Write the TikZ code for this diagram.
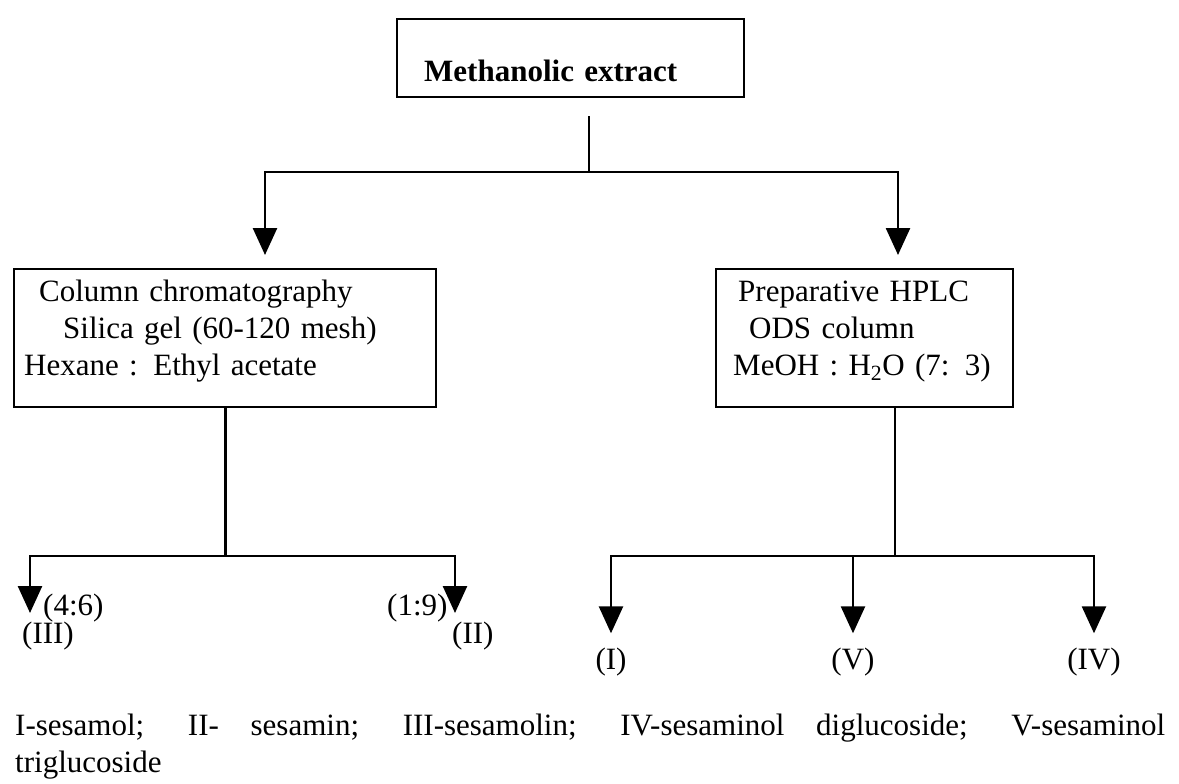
\documentclass[tikz,border=0pt]{standalone}
\usepackage{fontspec}
\setmainfont{Liberation Serif}
\usetikzlibrary{arrows.meta, positioning}

\newcommand{\flowfont}{\fontsize{31}{37}\selectfont}

\begin{document}
\begin{tikzpicture}[x=1pt, y=-1pt,
      every node/.style={font=\flowfont},
      stage/.style={rectangle, draw, line width=2.4pt, inner ysep=0pt,
        align=left, anchor=north west},
      link/.style={line width=2.6pt},
      flow/.style={link, -{Triangle[width=24pt, length=27pt]}},
      lbl/.style={inner sep=0pt, anchor=base west},
      frac/.style={inner sep=0pt, anchor=base}
    ]
      \useasboundingbox (0,0) rectangle (1179,784);

      % extraction and the two separation routes
      \node[stage, font=\flowfont\bfseries, inner xsep=27pt, text width=293pt,
        text height=62pt, text depth=16pt] (ext) at (396,18) {Methanolic extract};
      \node[stage, inner xsep=10pt, text width=402pt,
        text height=32pt, text depth=106pt] (col) at (13,268)
        {\hspace*{15pt}Column chromatography\\
         \hspace*{39pt}Silica gel (60-120 mesh)\\
         Hexane : Ethyl acetate};
      \node[stage, inner xsep=10pt, text width=277pt,
        text height=32pt, text depth=106pt] (hplc) at (715,268)
        {\hspace*{12pt}Preparative HPLC\\
         \hspace*{23pt}ODS column\\
         \hspace*{7pt}MeOH : H\textsubscript{2}O (7: 3)};

      \coordinate (fork) at (589,172);
      \coordinate (toCol) at (265,255);
      \coordinate (toHplc) at (898,255);
      \draw[link] ([yshift=-18pt]ext.south -| fork) -- (fork);
      \draw[flow] (fork) -| (toCol);
      \draw[flow] (fork) -| (toHplc);

      % column fractions
      \node[lbl] (f46) at (43,615) {(4:6)};
      \node[lbl] (f19) at (387,615) {(1:9)};
      \node[lbl] (c3) at (22,643) {(III)};
      \node[lbl] (c2) at (452,643) {(II)};
      \coordinate (colFork) at (col.south |- 0,556);
      \coordinate (toC3) at (30,613);
      \coordinate (toC2) at (455,613);
      \draw[link] (col.south) -- (colFork);
      \draw[flow] (colFork) -| (toC3);
      \draw[flow] (colFork) -| (toC2);

      % HPLC fractions
      \node[frac] (h1) at (611,669) {(I)};
      \node[frac] (h5) at (853,669) {(V)};
      \node[frac] (h4) at (1094,669) {(IV)};
      \coordinate (hplcFork) at (895,556);
      \draw[link] (hplc.south -| hplcFork) -- (hplcFork);
      \draw[flow] (hplcFork) -| ([yshift=14pt]h1.north);
      \draw[flow] (h5.north |- hplcFork) -- ([yshift=14pt]h5.north);
      \draw[flow] (hplcFork) -| ([yshift=14pt]h4.north);

      % key to the compounds
      \node[lbl, text width=1150pt, align=justify] (key) at (15,735)
        {\spaceskip=0.25em plus 3em\hyphenpenalty=10000\exhyphenpenalty=10000
         I-sesamol; II- sesamin; III-sesamolin; IV-sesaminol diglucoside;
         V-sesaminol\linebreak triglucoside};
    \end{tikzpicture}
\end{document}
